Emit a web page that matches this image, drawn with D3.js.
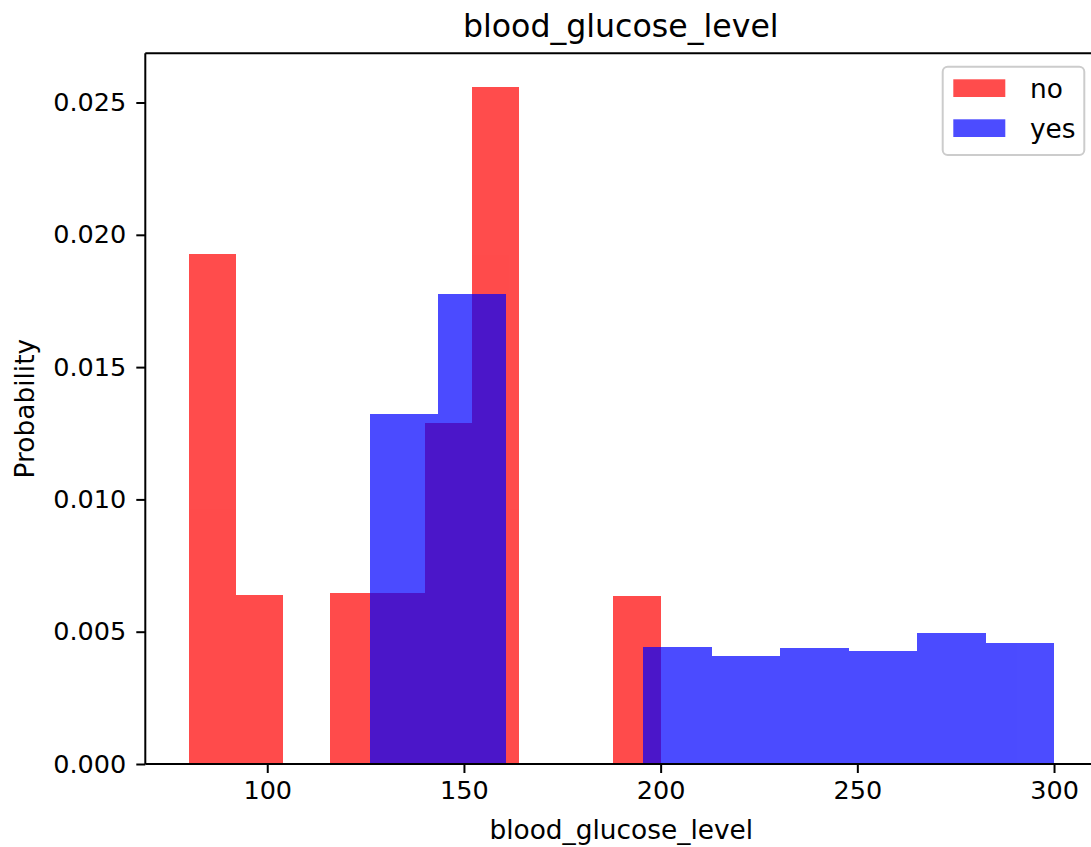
<!DOCTYPE html>
<html>
<head>
<meta charset="utf-8">
<script src="https://cdn.jsdelivr.net/npm/d3@7"></script>
<style>
  html, body { margin: 0; padding: 0; background: #fff; }
  svg { display: block; }
  text { font-family: "DejaVu Sans", sans-serif; fill: #000; }
</style>
</head>
<body>
<svg id="chart" width="1091" height="847"></svg>
<script>
// ---- data (density histograms) ----
const seriesNames = ["no", "yes"];
const seriesColors = ["#ff0000", "#0000ff"];

const noBinEdges = [80, 92, 104, 116, 128, 140, 152, 164, 176, 188, 200];
const noDensity  = [0.01926, 0.00639, 0, 0.00647, 0.00647, 0.01288, 0.02559, 0, 0, 0.00635];

const yesBinEdges = [126, 143.4, 160.8, 178.2, 195.6, 213, 230.4, 247.8, 265.2, 282.6, 300];
const yesDensity  = [0.01323, 0.01775, 0, 0, 0.00443, 0.00408, 0.00437, 0.00428, 0.00494, 0.00458];

const xTicks = [100, 150, 200, 250, 300];
const yTicks = [0, 0.005, 0.010, 0.015, 0.020, 0.025];

const titleText = "blood_glucose_level";
const xLabelText = "blood_glucose_level";
const yLabelText = "Probability";

// ---- layout ----
const svg = d3.select("#chart");
const plot = { left: 145.3, right: 1097.3, top: 53.3, bottom: 764 };

const x = d3.scaleLinear().domain([69, 311]).range([plot.left, plot.right]);
const y = d3.scaleLinear().domain([0, 0.02686]).range([plot.bottom, plot.top]);

function bins(edges, vals) {
  return vals.map((v, i) => ({ x0: edges[i], x1: edges[i + 1], v }));
}
const allSeries = [bins(noBinEdges, noDensity), bins(yesBinEdges, yesDensity)];

// bars: each series in a translucent group so adjacent bins show no seams
allSeries.forEach((data, si) => {
  svg.append("g")
    .attr("opacity", 0.7)
    .selectAll("rect")
    .data(data.filter(d => d.v > 0))
    .join("rect")
    .attr("shape-rendering", "crispEdges")
    .attr("x", d => x(d.x0))
    .attr("width", d => x(d.x1) - x(d.x0))
    .attr("y", d => y(d.v))
    .attr("height", d => y(0) - y(d.v))
    .attr("fill", seriesColors[si]);
});

// axes
const tickFont = 25.5;
const xAxis = d3.axisBottom(x).tickValues(xTicks).tickSize(9).tickPadding(8).tickFormat(d3.format("d"));
const gx = svg.append("g").attr("transform", `translate(0,${plot.bottom})`).call(xAxis);
gx.select(".domain").remove();
gx.selectAll(".tick line").attr("stroke", "#000").attr("stroke-width", 2);
gx.selectAll(".tick text").attr("font-size", tickFont).attr("font-family", "DejaVu Sans").attr("fill", "#000");

const yAxis = d3.axisLeft(y).tickValues(yTicks).tickSize(9).tickPadding(10).tickFormat(d3.format(".3f"));
const gy = svg.append("g").attr("transform", `translate(${plot.left},0)`).call(yAxis);
gy.select(".domain").remove();
gy.selectAll(".tick line").attr("stroke", "#000").attr("stroke-width", 2);
gy.selectAll(".tick text").attr("font-size", tickFont).attr("font-family", "DejaVu Sans").attr("fill", "#000");

// spines
const sp = svg.append("g").attr("stroke", "#000").attr("stroke-width", 2).attr("fill", "none");
sp.append("line").attr("x1", plot.left).attr("x2", plot.right).attr("y1", plot.bottom).attr("y2", plot.bottom);
sp.append("line").attr("x1", plot.left).attr("x2", plot.right).attr("y1", plot.top).attr("y2", plot.top);
sp.append("line").attr("x1", plot.left).attr("x2", plot.left).attr("y1", plot.top).attr("y2", plot.bottom);
sp.append("line").attr("x1", plot.right).attr("x2", plot.right).attr("y1", plot.top).attr("y2", plot.bottom);

// title & labels
svg.append("text").attr("x", (plot.left + plot.right) / 2 - 0.5).attr("y", 37)
  .attr("text-anchor", "middle").attr("font-size", 31.6).text(titleText);
svg.append("text").attr("x", (plot.left + plot.right) / 2).attr("y", 839)
  .attr("text-anchor", "middle").attr("font-size", 26.4).text(xLabelText);
svg.append("text").attr("transform", `translate(34,${(plot.top + plot.bottom) / 2}) rotate(-90)`)
  .attr("text-anchor", "middle").attr("font-size", 26.4).text(yLabelText);

// legend
const lg = svg.append("g");
lg.append("rect").attr("x", 942.7).attr("y", 66.7).attr("width", 141.6).attr("height", 88.3)
  .attr("rx", 5).attr("fill", "#fff").attr("fill-opacity", 0.8)
  .attr("stroke", "#cccccc").attr("stroke-width", 2);
seriesNames.forEach((name, i) => {
  const yy = 79.3 + i * 40;
  lg.append("rect").attr("x", 953.3).attr("y", yy).attr("width", 52).attr("height", 17.7)
    .attr("fill", seriesColors[i]).attr("fill-opacity", 0.7);
  lg.append("text").attr("x", 1030).attr("y", yy + 9).attr("dy", "0.35em")
    .attr("font-size", 26.4).text(name);
});
</script>
</body>
</html>
